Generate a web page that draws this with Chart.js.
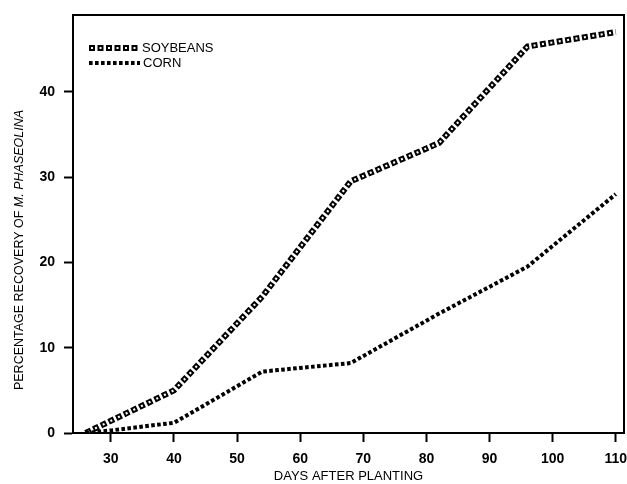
<!DOCTYPE html>
<html><head><meta charset="utf-8">
<script src="https://cdn.jsdelivr.net/npm/chart.js@4"></script>
<style>html,body{margin:0;padding:0;background:#fff}#wrap{width:627px;height:484px}</style>
</head><body><div id="wrap"><canvas id="c" width="627" height="484"></canvas></div>
<script>
// ---- data ----
const soyDays   = [26, 40, 54, 68, 82, 96, 110];
const soyValues = [0, 5, 16, 29.5, 34, 45.3, 47];
const cornDays   = [26, 30, 40, 54, 68, 82, 96, 110];
const cornValues = [0, 0.3, 1.2, 7.2, 8.2, 14, 19.5, 28];
const xTicks = [30, 40, 50, 60, 70, 80, 90, 100, 110];
const yTicks = [0, 10, 20, 30, 40];
const seriesNames = ['SOYBEANS', 'CORN'];
const xTitle = 'DAYS AFTER PLANTING';
const yTitleA = 'PERCENTAGE RECOVERY OF ';
const yTitleB = 'M. PHASEOLINA';

const FONT = '"Liberation Sans", Arial, Helvetica, sans-serif';
const TICKFONT = '"Liberation Sans Narrow", "Arial Narrow", "Liberation Sans", Arial, sans-serif';
Chart.defaults.font.family = FONT;
Chart.defaults.color = '#000';

const soyPts = soyDays.map((d, i) => ({x: d, y: soyValues[i]}));
const cornPts = cornDays.map((d, i) => ({x: d, y: cornValues[i]}));

const SOY_OUT = {w: 6, dash: [6, 2.5], off: 0};
const SOY_IN  = {w: 2.2, dash: [2, 6.5], off: 6.5};
const CORN    = {w: 4, dash: [3.6, 2.4], off: 0};

const extras = {
  id: 'extras',
  afterDraw(chart) {
    const {ctx, chartArea: a} = chart;
    ctx.save();
    // top & right frame
    ctx.strokeStyle = '#000'; ctx.lineWidth = 2; ctx.setLineDash([]);
    ctx.beginPath();
    ctx.moveTo(a.left - 1, a.top); ctx.lineTo(a.right, a.top); ctx.lineTo(a.right, a.bottom + 1);
    ctx.stroke();
    // legend
    const lx0 = a.left + 16, lx1 = a.left + 67;
    const ly1 = a.top + 33, ly2 = a.top + 48;
    function seg(y, st, color) {
      ctx.strokeStyle = color; ctx.lineWidth = st.w; ctx.setLineDash(st.dash); ctx.lineDashOffset = st.off;
      ctx.lineCap = 'butt';
      ctx.beginPath(); ctx.moveTo(lx0, y); ctx.lineTo(lx1, y); ctx.stroke();
    }
    seg(ly1, SOY_OUT, '#000');
    seg(ly1, SOY_IN, '#fff');
    seg(ly2, CORN, '#000');
    ctx.setLineDash([]);
    ctx.fillStyle = '#000';
    ctx.font = '13px ' + FONT;
    ctx.textBaseline = 'middle'; ctx.textAlign = 'left';
    ctx.fillText(seriesNames[0], lx1 + 2, ly1);
    ctx.fillText(seriesNames[1], lx1 + 3, ly2);
    // y title with italic part
    ctx.translate(20, 250);
    ctx.rotate(-Math.PI / 2);
    ctx.font = '12.5px ' + FONT;
    const wA = ctx.measureText(yTitleA).width;
    ctx.font = 'italic 12.5px ' + FONT;
    const wB = ctx.measureText(yTitleB).width;
    let x = -(wA + wB) / 2;
    ctx.font = '12.5px ' + FONT;
    ctx.fillText(yTitleA, x, 0);
    ctx.font = 'italic 12.5px ' + FONT;
    ctx.fillText(yTitleB, x + wA, 0);
    ctx.restore();
  }
};

new Chart(document.getElementById('c'), {
  type: 'line',
  data: {
    datasets: [
      {label: seriesNames[1], data: cornPts, borderColor: '#000', borderWidth: CORN.w,
       borderDash: CORN.dash, borderDashOffset: CORN.off, pointRadius: 0, tension: 0, fill: false, order: 0},
      {label: seriesNames[0] + ' inner', data: soyPts, borderColor: '#fff', borderWidth: SOY_IN.w,
       borderDash: SOY_IN.dash, borderDashOffset: SOY_IN.off, pointRadius: 0, tension: 0, fill: false, order: 1},
      {label: seriesNames[0], data: soyPts, borderColor: '#000', borderWidth: SOY_OUT.w,
       borderDash: SOY_OUT.dash, borderDashOffset: SOY_OUT.off, pointRadius: 0, tension: 0, fill: false, order: 2}
    ]
  },
  options: {
    responsive: false, animation: false, devicePixelRatio: 1,
    layout: {padding: {left: 0, right: 3, top: 15, bottom: 0}},
    plugins: {legend: {display: false}, tooltip: {enabled: false}},
    scales: {
      x: {
        type: 'linear', min: 24, max: 111.3,
        afterBuildTicks: s => { s.ticks = xTicks.map(v => ({value: v})); },
        afterFit: s => { s.height = 51; s.paddingLeft = 0; s.paddingRight = 0; },
        grid: {drawOnChartArea: false, drawTicks: true, tickLength: 9, tickWidth: 2, tickColor: '#000'},
        border: {display: true, color: '#000', width: 2},
        ticks: {font: {family: TICKFONT, size: 14, weight: 'bold'}, color: '#000', padding: 9, maxRotation: 0},
        title: {display: true, text: xTitle, font: {size: 13}, color: '#000', padding: {top: 0, bottom: 0}}
      },
      y: {
        type: 'linear', min: 0, max: 49,
        afterBuildTicks: s => { s.ticks = yTicks.map(v => ({value: v})); },
        afterFit: s => { s.width = 73; s.paddingTop = 0; s.paddingBottom = 0; },
        grid: {drawOnChartArea: false, drawTicks: true, tickLength: 9, tickWidth: 2, tickColor: '#000'},
        border: {display: true, color: '#000', width: 2},
        ticks: {font: {family: TICKFONT, size: 14, weight: 'bold'}, color: '#000', padding: 9}
      }
    }
  },
  plugins: [extras]
});
</script>
</body></html>
